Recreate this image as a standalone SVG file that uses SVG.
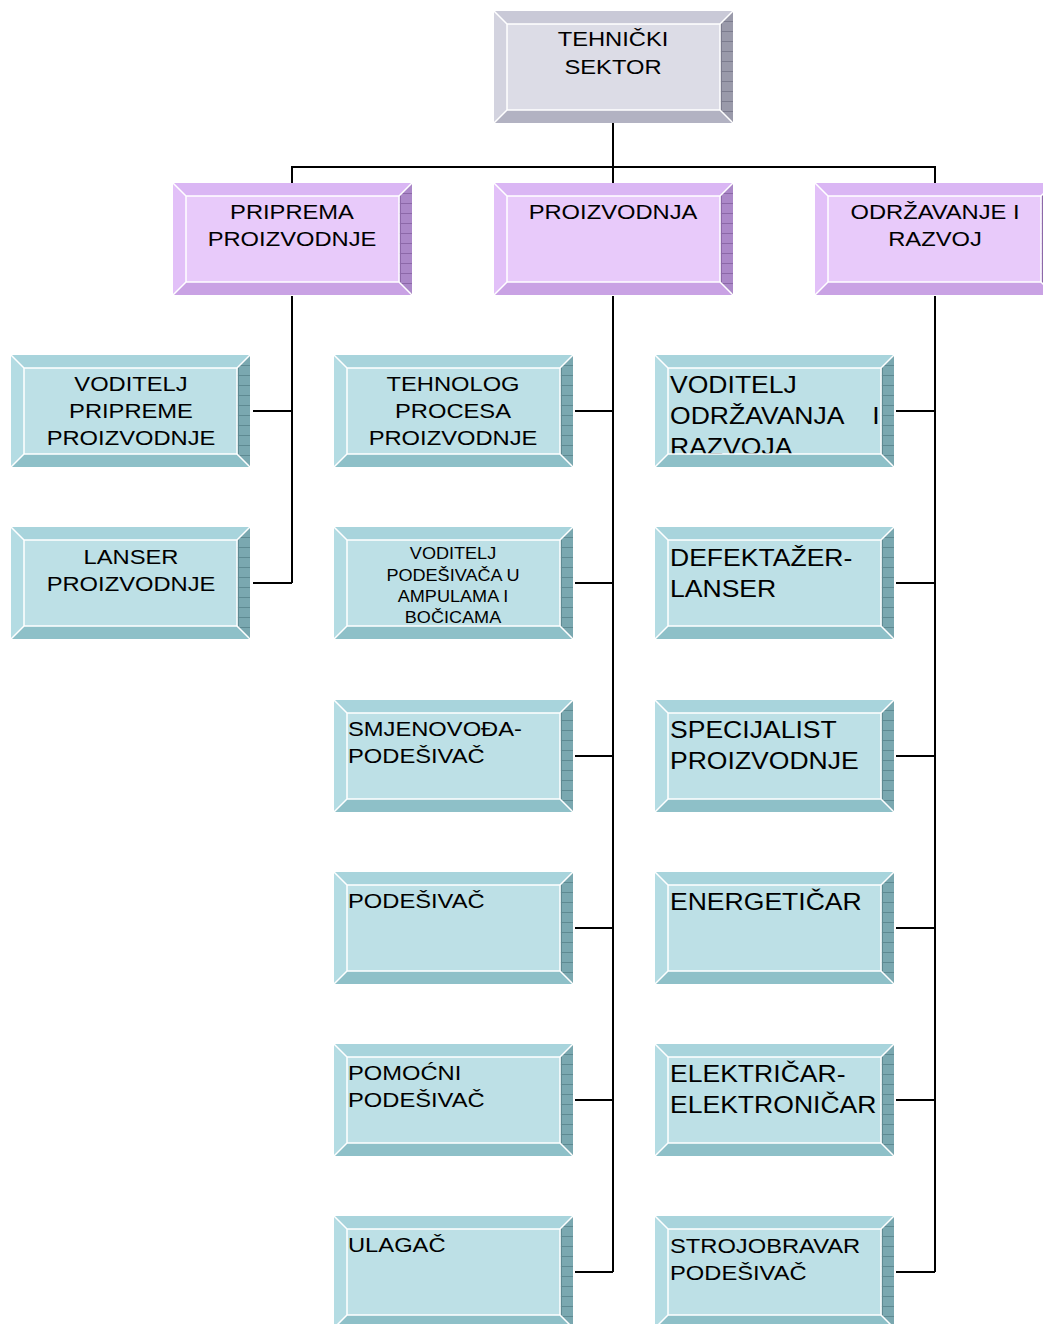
<svg xmlns="http://www.w3.org/2000/svg" xmlns:xlink="http://www.w3.org/1999/xlink" width="1043" height="1324" viewBox="0 0 1043 1324">
<style>
text{font-family:"Liberation Sans",Arial,sans-serif;fill:#000}
.c{text-anchor:middle}
.f21{font-size:21px}
.f23{font-size:23.5px}
.f16{font-size:16px}
.conn{fill:none;stroke:#000;stroke-width:2}
.wl{stroke:#fff;stroke-width:1.5;fill:none}
</style>
<defs>
<pattern id="gridT" width="13" height="10" patternUnits="userSpaceOnUse">
<rect width="13" height="10" fill="#7aa8b0"/>
<path d="M0 0.5H13M6.5 0V10" stroke="#5e8a92" stroke-width="1"/>
</pattern>
<pattern id="gridP" width="13" height="10" patternUnits="userSpaceOnUse">
<rect width="13" height="10" fill="#ab88c8"/>
<path d="M0 0.5H13M6.5 0V10" stroke="#8c68a8" stroke-width="1"/>
</pattern>
<pattern id="gridG" width="13" height="10" patternUnits="userSpaceOnUse">
<rect width="13" height="10" fill="#9a9aaa"/>
<path d="M0 0.5H13M6.5 0V10" stroke="#7c7c8e" stroke-width="1"/>
</pattern>
<g id="boxT">
<rect x="13" y="13" width="213" height="86" fill="#bde0e6"/>
<polygon points="0,0 239,0 226,13 13,13" fill="#a8d4dc"/>
<polygon points="0,0 13,13 13,99 0,112" fill="#b4dce3"/>
<polygon points="0,112 13,99 226,99 239,112" fill="#8ec0c8"/>
<polygon points="239,0 239,112 226,99 226,13" fill="url(#gridT)"/>
<rect x="13" y="13" width="213" height="86" class="wl"/>
<path d="M0 0L13 13M239 0L226 13M0 112L13 99M239 112L226 99" class="wl"/>
</g>
<g id="boxTf">
<polygon points="0,0 239,0 226,13 13,13" fill="#a8d4dc"/>
<polygon points="0,0 13,13 13,99 0,112" fill="#b4dce3"/>
<polygon points="0,112 13,99 226,99 239,112" fill="#8ec0c8"/>
<polygon points="239,0 239,112 226,99 226,13" fill="url(#gridT)"/>
<rect x="13" y="13" width="213" height="86" class="wl"/>
<path d="M0 0L13 13M239 0L226 13M0 112L13 99M239 112L226 99" class="wl"/>
</g>
<g id="boxP">
<rect x="13" y="13" width="213" height="86" fill="#e8cafa"/>
<polygon points="0,0 239,0 226,13 13,13" fill="#dab6f4"/>
<polygon points="0,0 13,13 13,99 0,112" fill="#e2c0f8"/>
<polygon points="0,112 13,99 226,99 239,112" fill="#c9a2e4"/>
<polygon points="239,0 239,112 226,99 226,13" fill="url(#gridP)"/>
<rect x="13" y="13" width="213" height="86" class="wl"/>
<path d="M0 0L13 13M239 0L226 13M0 112L13 99M239 112L226 99" class="wl"/>
</g>
<g id="boxG">
<rect x="13" y="13" width="213" height="86" fill="#dcdce6"/>
<polygon points="0,0 239,0 226,13 13,13" fill="#c9c9d7"/>
<polygon points="0,0 13,13 13,99 0,112" fill="#d3d3df"/>
<polygon points="0,112 13,99 226,99 239,112" fill="#b2b2c2"/>
<polygon points="239,0 239,112 226,99 226,13" fill="url(#gridG)"/>
<rect x="13" y="13" width="213" height="86" class="wl"/>
<path d="M0 0L13 13M239 0L226 13M0 112L13 99M239 112L226 99" class="wl"/>
</g>
<clipPath id="clipVOR"><rect x="668" y="368" width="213" height="86"/></clipPath>
</defs>
<rect width="1043" height="1324" fill="#fff"/>

<g id="connectors">
<path class="conn" d="M613 123V183"/>
<path class="conn" d="M292 183V167H935V183"/>
<path class="conn" d="M292 296V583M253 411H292M253 583H292"/>
<path class="conn" d="M613 296V1272M575 411H613M575 583H613M575 756H613M575 928H613M575 1100H613M575 1272H613"/>
<path class="conn" d="M935 296V1272M896 411H935M896 583H935M896 756H935M896 928H935M896 1100H935M896 1272H935"/>
</g>

<g id="n-tehnicki-sektor">
<use xlink:href="#boxG" x="494" y="11"/>
<text class="f21 c" transform="translate(613,0) scale(1.13,1)"><tspan x="0" y="46">TEHNIČKI</tspan><tspan x="0" y="74">SEKTOR</tspan></text>
</g>

<g id="n-priprema">
<use xlink:href="#boxP" x="173" y="183"/>
<text class="f21 c" transform="translate(292,0) scale(1.13,1)"><tspan x="0" y="219">PRIPREMA</tspan><tspan x="0" y="246">PROIZVODNJE</tspan></text>
</g>
<g id="n-proizvodnja">
<use xlink:href="#boxP" x="494" y="183"/>
<text class="f21 c" transform="translate(613,0) scale(1.13,1)"><tspan x="0" y="219">PROIZVODNJA</tspan></text>
</g>
<g id="n-odrzavanje">
<use xlink:href="#boxP" x="815" y="183"/>
<text class="f21 c" transform="translate(935,0) scale(1.13,1)"><tspan x="0" y="219">ODRŽAVANJE I</tspan><tspan x="0" y="246">RAZVOJ</tspan></text>
</g>

<g id="n-voditelj-pripreme">
<use xlink:href="#boxT" x="11" y="355"/>
<text class="f21 c" transform="translate(131,0) scale(1.13,1)"><tspan x="0" y="391">VODITELJ</tspan><tspan x="0" y="418">PRIPREME</tspan><tspan x="0" y="445">PROIZVODNJE</tspan></text>
</g>
<g id="n-lanser-proizvodnje">
<use xlink:href="#boxT" x="11" y="527"/>
<text class="f21 c" transform="translate(131,0) scale(1.13,1)"><tspan x="0" y="564">LANSER</tspan><tspan x="0" y="591">PROIZVODNJE</tspan></text>
</g>

<g id="n-tehnolog">
<use xlink:href="#boxT" x="334" y="355"/>
<text class="f21 c" transform="translate(453,0) scale(1.13,1)"><tspan x="0" y="391">TEHNOLOG</tspan><tspan x="0" y="418">PROCESA</tspan><tspan x="0" y="445">PROIZVODNJE</tspan></text>
</g>
<g id="n-voditelj-podesivaca">
<use xlink:href="#boxT" x="334" y="527"/>
<text class="f16 c" transform="translate(453,0) scale(1.13,1)"><tspan x="0" y="559">VODITELJ</tspan><tspan x="0" y="581">PODEŠIVAČA U</tspan><tspan x="0" y="602">AMPULAMA I</tspan><tspan x="0" y="623">BOČICAMA</tspan></text>
</g>
<g id="n-smjenovoda">
<use xlink:href="#boxT" x="334" y="700"/>
<text class="f21" transform="translate(348,0) scale(1.13,1)"><tspan x="0" y="736">SMJENOVOĐA-</tspan><tspan x="0" y="763">PODEŠIVAČ</tspan></text>
</g>
<g id="n-podesivac">
<use xlink:href="#boxT" x="334" y="872"/>
<text class="f21" transform="translate(348,0) scale(1.13,1)"><tspan x="0" y="908">PODEŠIVAČ</tspan></text>
</g>
<g id="n-pomocni">
<use xlink:href="#boxT" x="334" y="1044"/>
<text class="f21" transform="translate(348,0) scale(1.13,1)"><tspan x="0" y="1080">POMOĆNI</tspan><tspan x="0" y="1107">PODEŠIVAČ</tspan></text>
</g>
<g id="n-ulagac">
<use xlink:href="#boxT" x="334" y="1216"/>
<text class="f21" transform="translate(348,0) scale(1.13,1)"><tspan x="0" y="1252">ULAGAČ</tspan></text>
</g>

<g id="n-voditelj-odrzavanja">
<rect x="668" y="368" width="213" height="86" fill="#bde0e6"/>
<g clip-path="url(#clipVOR)">
<text class="f23" transform="translate(670,0) scale(1.13,1)"><tspan x="0" y="393">VODITELJ</tspan><tspan x="0" y="424">ODRŽAVANJA</tspan><tspan x="179" y="424">I</tspan><tspan x="0" y="455">RAZVOJA</tspan></text>
</g>
<use xlink:href="#boxTf" x="655" y="355"/>
</g>
<g id="n-defektazer">
<use xlink:href="#boxT" x="655" y="527"/>
<text class="f23" transform="translate(670,0) scale(1.13,1)"><tspan x="0" y="566">DEFEKTAŽER-</tspan><tspan x="0" y="597">LANSER</tspan></text>
</g>
<g id="n-specijalist">
<use xlink:href="#boxT" x="655" y="700"/>
<text class="f23" transform="translate(670,0) scale(1.13,1)"><tspan x="0" y="738">SPECIJALIST</tspan><tspan x="0" y="769">PROIZVODNJE</tspan></text>
</g>
<g id="n-energeticar">
<use xlink:href="#boxT" x="655" y="872"/>
<text class="f23" transform="translate(670,0) scale(1.13,1)"><tspan x="0" y="910">ENERGETIČAR</tspan></text>
</g>
<g id="n-elektricar">
<use xlink:href="#boxT" x="655" y="1044"/>
<text class="f23" transform="translate(670,0) scale(1.13,1)"><tspan x="0" y="1082">ELEKTRIČAR-</tspan><tspan x="0" y="1113">ELEKTRONIČAR</tspan></text>
</g>
<g id="n-strojobravar">
<use xlink:href="#boxT" x="655" y="1216"/>
<text class="f21" transform="translate(670,0) scale(1.13,1)"><tspan x="0" y="1253">STROJOBRAVAR</tspan><tspan x="0" y="1280">PODEŠIVAČ</tspan></text>
</g>
</svg>
